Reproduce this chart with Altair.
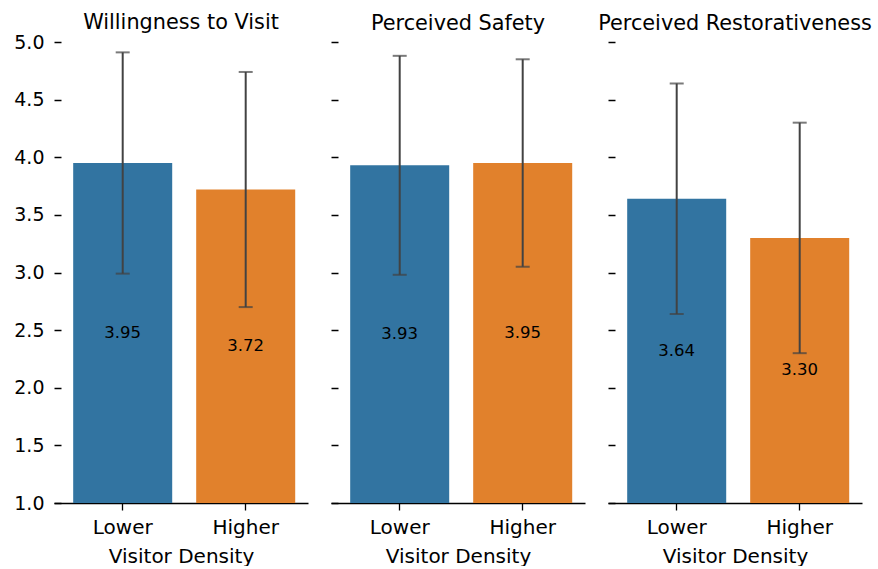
import altair as alt
import pandas as pd

# Survey ratings by visitor density (mean ± SD), one panel per measure
measures = ["Willingness to Visit", "Perceived Safety", "Perceived Restorativeness"]
densities = ["Lower", "Higher"]
means = [[3.95, 3.72], [3.93, 3.95], [3.64, 3.30]]
sds = [[0.96, 1.02], [0.95, 0.90], [1.00, 1.00]]

colors = ["#3274a1", "#e1812c"]
FONT = "DejaVu Sans"

rows = []
for m, mv, sv in zip(measures, means, sds):
    for d, v, s in zip(densities, mv, sv):
        rows.append({"measure": m, "density": d, "mean": v, "lo": v - s, "hi": v + s})
df = pd.DataFrame(rows)


def panel(measure, first):
    base = alt.Chart(df).transform_filter(alt.datum.measure == measure)
    x = alt.X(
        "density:N",
        sort=densities,
        title="Visitor Density",
        scale=alt.Scale(paddingInner=0.195, paddingOuter=0.13, align=0.6),
        axis=alt.Axis(
            labelAngle=0,
            labelFontSize=20,
            titleFontSize=20,
            labelFont=FONT,
            titleFont=FONT,
            labelColor="#000000",
            titleColor="#000000",
            titleFontWeight="normal",
            domainColor="#000000",
            domainWidth=1.6,
            tickColor="#000000",
            tickWidth=1.3,
            tickSize=7,
            labelPadding=7,
            titlePadding=9,
        ),
    )
    yscale = alt.Scale(domain=[1, 5], zero=False, nice=False)
    yaxis = alt.Axis(
        values=[1.0, 1.5, 2.0, 2.5, 3.0, 3.5, 4.0, 4.5, 5.0],
        format=".1f",
        labels=first,
        title=None,
        domain=False,
        grid=False,
        tickSize=7,
        tickWidth=1.5,
        tickColor="#000000",
        offset=-7,
        labelFontSize=19,
        labelFont=FONT,
        labelColor="#000000",
        labelPadding=10,
    )
    bars = base.mark_bar().encode(
        x=x,
        y=alt.Y("mean:Q", scale=yscale, axis=yaxis),
        y2=alt.datum(1.0),
        color=alt.Color("density:N", scale=alt.Scale(domain=densities, range=colors), legend=None),
    )
    err = base.mark_rule(color="#424242", strokeWidth=2).encode(
        x=alt.X("density:N", sort=densities), y="lo:Q", y2="hi:Q"
    )
    cap_lo = base.mark_tick(color="#424242", thickness=2, size=14).encode(
        x=alt.X("density:N", sort=densities), y="lo:Q"
    )
    cap_hi = base.mark_tick(color="#424242", thickness=2, size=14).encode(
        x=alt.X("density:N", sort=densities), y="hi:Q"
    )
    labels = base.transform_calculate(mid="(datum.mean + 1) / 2").mark_text(
        fontSize=16.5, font=FONT, color="#000000", baseline="middle"
    ).encode(
        x=alt.X("density:N", sort=densities),
        y="mid:Q",
        text=alt.Text("mean:Q", format=".2f"),
    )
    # the first panel's tick labels reach above the plot, so its title is nudged down
    title = alt.TitleParams(
        measure,
        fontSize=20.8,
        font=FONT,
        fontWeight="normal",
        color="#000000",
        offset=6,
        dy=7 if first else 0,
    )
    return alt.layer(bars, err, cap_lo, cap_hi, labels).properties(
        width=254, height=461, title=title
    )


p1, p2, p3 = [panel(m, i == 0) for i, m in enumerate(measures)]

# the long third title overhangs its panel, so that gap is narrowed to keep panels evenly spaced
chart = (
    alt.hconcat(alt.hconcat(p1, p2, spacing=22), p3, spacing=13)
    .configure_view(stroke=None)
    .properties(padding={"left": 13, "top": 12, "right": 0, "bottom": 0})
)

chart.save("out.html", embed_options={"renderer": "svg", "actions": False})
